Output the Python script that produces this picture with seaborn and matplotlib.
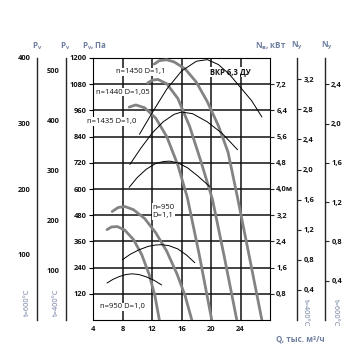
import numpy as np
import pandas as pd
import matplotlib
matplotlib.use("Agg")
import matplotlib.pyplot as plt
import seaborn as sns

sns.set_style("white")
plt.rcParams['font.family'] = ['Open Sans', 'DejaVu Sans']
plt.rcParams['mathtext.fontset'] = 'custom'
plt.rcParams['mathtext.rm'] = 'Open Sans'
plt.rcParams['mathtext.bf'] = 'Open Sans:bold'

# pressure curves, Q (thous. m3/h) vs Pv (Pa)
q_1450_11 = [12.3, 13.0, 14.0, 15.0, 16.5, 18.0, 19.5, 21.0, 22.3, 23.6, 25.2, 26.9]
p_1450_11 = [1172, 1188, 1192, 1182, 1150, 1090, 1000, 890, 770, 560, 290, 0]
q_1440_105 = [11.4, 12.0, 12.8, 14.0, 15.5, 17.1, 18.6, 20.2, 21.8, 23.5]
p_1440_105 = [1085, 1098, 1102, 1082, 1015, 887, 730, 552, 290, 0]
q_1435_10 = [8.9, 9.8, 11.0, 12.5, 14.0, 15.5, 16.8, 18.4, 20.1]
p_1435_10 = [975, 985, 972, 925, 840, 710, 560, 300, 0]
q_950_11 = [6.6, 7.4, 8.3, 9.5, 11.0, 12.5, 14.0, 15.4, 16.5, 17.4]
p_950_11 = [497, 515, 520, 505, 465, 400, 315, 210, 110, 0]
q_950_10 = [5.9, 6.5, 7.3, 8.3, 9.5, 10.6, 11.6, 12.4, 13.0]
p_950_10 = [414, 426, 428, 412, 368, 300, 210, 110, 0]

# power curves, Q vs N (kW)
qn_1450_11 = [10.3, 12.0, 14.0, 16.0, 18.0, 19.5, 21.0, 22.5, 24.0, 25.5, 26.9]
n_1450_11 = [5.67, 6.32, 7.05, 7.6, 7.9, 7.95, 7.8, 7.5, 7.1, 6.7, 6.2]
qn_1440_105 = [9.0, 10.5, 12.0, 13.5, 15.0, 16.0, 17.5, 19.5, 21.5, 23.6]
n_1440_105 = [4.75, 5.25, 5.7, 6.05, 6.28, 6.35, 6.3, 6.05, 5.7, 5.2]
qn_1435_10 = [8.9, 10.0, 11.2, 12.5, 13.6, 14.4, 15.5, 16.8, 18.2, 19.8]
n_1435_10 = [4.05, 4.35, 4.6, 4.78, 4.84, 4.85, 4.8, 4.65, 4.4, 4.08]
qn_950_11 = [8.0, 9.0, 10.2, 11.5, 12.5, 13.3, 14.3, 15.5, 16.7, 17.8]
n_950_11 = [1.84, 2.0, 2.14, 2.25, 2.29, 2.3, 2.27, 2.17, 1.98, 1.75]
qn_950_10 = [5.9, 6.7, 7.6, 8.5, 9.3, 10.2, 11.2, 12.3, 13.3]
n_950_10 = [1.13, 1.24, 1.33, 1.39, 1.41, 1.39, 1.32, 1.21, 1.07]

x_ticks = [4, 8, 12, 16, 20, 24]
p_ticks = [120, 240, 360, 480, 600, 720, 840, 960, 1080, 1200]
n_ticks = [0.8, 1.6, 2.4, 3.2, 4.0, 4.8, 5.6, 6.4, 7.2]
n_labels = ['0,8', '1,6', '2,4', '3,2', '4,0м', '4,8', '5,6', '6,4', '7,2']
p600_ticks = [100, 200, 300, 400]
p400_ticks = [100, 200, 300, 400, 500]
n400_ticks = [0.4, 0.8, 1.2, 1.6, 2.0, 2.4, 2.8, 3.2]
n600_ticks = [0.4, 0.8, 1.2, 1.6, 2.0, 2.4]

press = [(q_1450_11, p_1450_11), (q_1440_105, p_1440_105), (q_1435_10, p_1435_10),
         (q_950_11, p_950_11), (q_950_10, p_950_10)]
power = [(qn_1450_11, n_1450_11), (qn_1440_105, n_1440_105), (qn_1435_10, n_1435_10),
         (qn_950_11, n_950_11), (qn_950_10, n_950_10)]

lab_col = '#6f7fa0'
tick_col = '#111111'
fs = 5.4

fig = plt.figure(figsize=(3.56, 3.63), dpi=100)
rect = [93/356, 43/363, 177/356, 262/363]
ax = fig.add_axes(rect)

for q, p in press:
    sns.lineplot(x=q, y=p, ax=ax, color='#838383', lw=2.0, sort=False, estimator=None, zorder=3)

ax.set_xlim(4, 28)
ax.set_ylim(0, 1200)
ax.set_xticks(x_ticks)
ax.set_yticks(p_ticks)
ax.tick_params(axis='both', direction='out', length=3, width=0.8, labelsize=fs,
               colors='#000000', labelcolor=tick_col, pad=1.5)
for t in ax.get_xticklabels() + ax.get_yticklabels():
    t.set_fontweight('bold')
ax.grid(True, color='#111111', lw=1.1)
ax.set_axisbelow(True)
for s in ax.spines.values():
    s.set_color('#000000')
    s.set_linewidth(0.8)
ax.set_xlabel('')
ax.set_ylabel('')

# power axis
axn = ax.twinx()
for q, n in power:
    sns.lineplot(x=q, y=n, ax=axn, color='#000000', lw=0.7, sort=False, estimator=None)
axn.set_ylim(0, 8)
axn.set_yticks(n_ticks)
axn.set_yticklabels(n_labels)
axn.tick_params(axis='y', direction='out', length=3, width=0.8, labelsize=fs,
                labelcolor=tick_col, pad=1.5)
for t in axn.get_yticklabels():
    t.set_fontweight('bold')
axn.set_ylabel('')
for s in axn.spines.values():
    s.set_visible(False)


def extra_axis(pos, top, ticks, labels, side):
    a = fig.add_axes(rect, frameon=True)
    a.patch.set_visible(False)
    for k, s in a.spines.items():
        s.set_visible(k == side)
    a.spines[side].set_position(('axes', pos))
    a.spines[side].set_linewidth(1.0)
    a.set_xticks([])
    a.set_ylim(0, top)
    a.set_yticks(ticks)
    a.set_yticklabels(labels)
    if side == 'right':
        a.yaxis.tick_right()
    a.tick_params(axis='y', direction='out', length=3, width=0.8, labelsize=fs,
                  labelcolor=tick_col, pad=1.5)
    for t in a.get_yticklabels():
        t.set_fontweight('bold')
    return a


extra_axis((37 - 93) / 177, 400, p600_ticks, [str(v) for v in p600_ticks], 'left')
extra_axis((66 - 93) / 177, 525, p400_ticks, [str(v) for v in p400_ticks], 'left')
extra_axis((297 - 93) / 177, 8 / 2.297, n400_ticks,
           [('%.1f' % v).replace('.', ',') for v in n400_ticks], 'right')
extra_axis((325 - 93) / 177, 8 / 3, n600_ticks,
           [('%.1f' % v).replace('.', ',') for v in n600_ticks], 'right')

# annotations on the chart
box = dict(fc='white', ec='none', pad=0.6)
tk = dict(fontsize=5.5, color='#111111', va='center', ha='left', bbox=box, zorder=5)
ax.text(7.1, 1136, 'n=1450 D=1,1', **tk)
ax.text(4.4, 1044, 'n=1440 D=1,05', **tk)
ax.text(3.2, 910, 'n=1435 D=1,0', clip_on=False, **tk)
ax.text(19.8, 1136, 'ВКР 6,3 ДУ', fontweight='bold', **tk)
ax.text(12.05, 497, 'n=950\nD=1,1', linespacing=1.3, **tk)
ax.text(4.95, 60, 'n=950 D=1,0', **tk)

# axis titles
lk = dict(fontsize=5.8, color=lab_col, fontweight='bold', va='center')
fig.text(37/356, 1 - 46/363, r'$\mathbf{P_v}$', ha='center', **lk)
fig.text(65/356, 1 - 46/363, r'$\mathbf{P_v}$', ha='center', **lk)
fig.text(82/356, 1 - 46/363, r'$\mathbf{P_v}$, Па', ha='left', **lk)
fig.text(255/356, 1 - 46/363, r'$\mathbf{N_в}$, кВт', ha='left', **lk)
fig.text(297/356, 1 - 46/363, r'$\mathbf{N_у}$', ha='center', **lk)
fig.text(327/356, 1 - 46/363, r'$\mathbf{N_у}$', ha='center', **lk)
fig.text(300/356, 1 - 339/363, 'Q, тыс. м³/ч', ha='center', **lk)

rk = dict(fontsize=5.3, color=lab_col, va='center', ha='center')
fig.text(27/356, 1 - 302/363, 't=600°C', rotation=90, **rk)
fig.text(56/356, 1 - 302/363, 't=400°C', rotation=90, **rk)
fig.text(305/356, 1 - 313/363, 't=400°C', rotation=-90, **rk)
fig.text(335/356, 1 - 313/363, 't=600°C', rotation=-90, **rk)

fig.savefig('out.png', dpi=100)
